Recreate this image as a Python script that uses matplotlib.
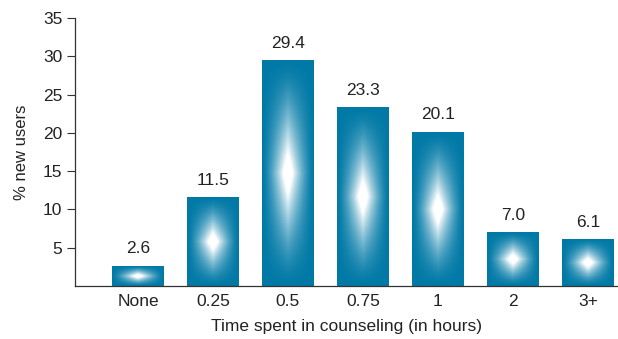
import numpy as np
import matplotlib.pyplot as plt

plt.rcParams['font.family'] = ['Liberation Sans', 'DejaVu Sans']

categories = ['None', '0.25', '0.5', '0.75', '1', '2', '3+']
pct_users = [2.6, 11.5, 29.4, 23.3, 20.1, 7.0, 6.1]
value_labels = ['2.6', '11.5', '29.4', '23.3', '20.1', '7.0', '6.1']
yticks = [5, 10, 15, 20, 25, 30, 35]

teal = np.array([0, 121, 166]) / 255.0
white = np.array([1.0, 1.0, 1.0])


def diamond_image(nx=60, ny=200):
    # diamond glow, white in the middle fading to teal at the edges
    u = np.linspace(-1, 1, nx)
    v = np.linspace(-1, 1, ny)
    U, V = np.meshgrid(u, v)
    t = (1 - np.abs(U)) ** 1.1 * (1 - np.abs(V)) ** 1.1
    t = np.clip(t * 1.25, 0, 1) ** 1.3
    img = teal[None, None, :] + t[..., None] * (white - teal)[None, None, :]
    return img


fig = plt.figure(figsize=(6.18, 3.39), dpi=100)
ax = fig.add_axes([75 / 618, 53 / 339, 543 / 618, 268 / 339])

width = 0.69
img = diamond_image()
x = np.arange(len(categories))
for i, h in enumerate(pct_users):
    ax.imshow(img, extent=(x[i] - width / 2, x[i] + width / 2, 0, h),
              aspect='auto', origin='lower', interpolation='bilinear', zorder=2)
    ax.annotate(value_labels[i], (x[i], h), xytext=(0, 7), textcoords='offset points',
                ha='center', va='bottom', fontsize=12.5, color='#222222')

ax.set_xlim(-0.84, 6.4)
ax.set_ylim(0, 35)
ax.set_xticks(x)
ax.set_xticklabels(categories, fontsize=12.5, color='#222222')
ax.tick_params(axis='x', length=0, pad=6)
ax.set_yticks(yticks)
ax.set_yticklabels([str(t) for t in yticks], fontsize=12.5, color='#222222')
ax.tick_params(axis='y', length=6, width=0.8, color='#333333', pad=3)

for s in ['top', 'right']:
    ax.spines[s].set_visible(False)
for s in ['left', 'bottom']:
    ax.spines[s].set_color('#333333')
    ax.spines[s].set_linewidth(0.9)

ax.set_xlabel('Time spent in counseling (in hours)', fontsize=12.5, color='#222222', labelpad=7)
ax.set_ylabel('% new users', fontsize=12, color='#222222', labelpad=10)

fig.savefig('out.png', dpi=100)
